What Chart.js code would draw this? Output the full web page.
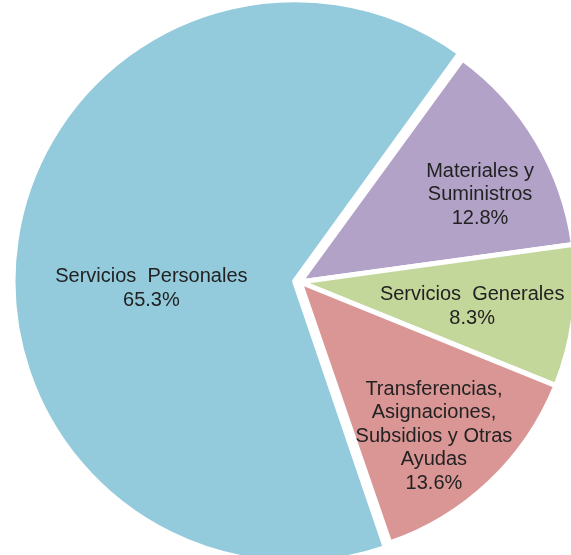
<!DOCTYPE html>
<html>
<head>
<meta charset="utf-8">
<script src="https://cdn.jsdelivr.net/npm/chart.js@4.4.1/dist/chart.umd.min.js"></script>
<style>
  html, body { margin: 0; padding: 0; background: #fff; }
  #wrap { width: 571px; height: 555px; position: relative; }
</style>
</head>
<body>
<div id="wrap"><canvas id="myChart"></canvas></div>
<script>
// categories (already split into the lines shown on the slices)
const labels = [
  ['Servicios  Personales'],
  ['Materiales y', 'Suministros'],
  ['Servicios  Generales'],
  ['Transferencias,', 'Asignaciones,', 'Subsidios y Otras', 'Ayudas']
];
const values = [65.3, 12.8, 8.3, 13.6];
const colors = ['#93CBDC', '#B2A2C7', '#C4D79B', '#DA9694'];
const offsets = [22, 0, 0, 0];

// where each label sits inside its slice: [fraction of radius, angle tweak in degrees]
const labelPlace = [[0.50, -12], [0.725, 5], [0.63, 1], [0.74, 2.5]];

const sliceLabels = {
  id: 'sliceLabels',
  afterDatasetsDraw(chart) {
    const ctx = chart.ctx;
    const arcs = chart.getDatasetMeta(0).data;
    const total = values.reduce((a, b) => a + b, 0);
    ctx.save();
    ctx.font = '20px "Liberation Sans", Arial, sans-serif';
    ctx.fillStyle = '#222';
    ctx.textAlign = 'center';
    ctx.textBaseline = 'middle';
    arcs.forEach((arc, i) => {
      const p = arc.getProps(['x', 'y', 'startAngle', 'endAngle', 'outerRadius', 'circumference']);
      const mid = (p.startAngle + p.endAngle) / 2;
      // same shift the arc element applies for its offset
      const o = (offsets[i] || 0) / 4;
      const fix = 1 - Math.sin(Math.min(Math.PI, p.circumference || 0));
      const shift = o + o * fix;
      const cx = p.x + Math.cos(mid) * shift;
      const cy = p.y + Math.sin(mid) * shift;
      const [frac, tweak] = labelPlace[i];
      const a = mid + tweak * Math.PI / 180;
      const lx = cx + Math.cos(a) * frac * p.outerRadius;
      const ly = cy + Math.sin(a) * frac * p.outerRadius;
      const lines = labels[i].concat([(values[i] / total * 100).toFixed(1) + '%']);
      const lh = 23.5;
      const top = ly - (lines.length - 1) * lh / 2;
      lines.forEach((t, k) => ctx.fillText(t, lx, top + k * lh));
    });
    ctx.restore();
  }
};

const config = {
  type: 'pie',
  data: {
    labels: labels.map(l => l.join(' ')),
    datasets: [{
      data: values,
      backgroundColor: colors,
      borderColor: '#ffffff',
      borderWidth: 5,
      offset: offsets,
      clip: false
    }]
  },
  options: {
    responsive: true,
    maintainAspectRatio: false,
    animation: false,
    events: [],
    rotation: 161,
    radius: 276,
    layout: { padding: { left: 29, top: 9, right: 0, bottom: 0 } },
    plugins: {
      legend: { display: false },
      tooltip: { enabled: false }
    }
  },
  plugins: [sliceLabels]
};

const ctx = document.getElementById('myChart').getContext('2d');
const myChart = new Chart(ctx, config);
</script>
</body>
</html>
